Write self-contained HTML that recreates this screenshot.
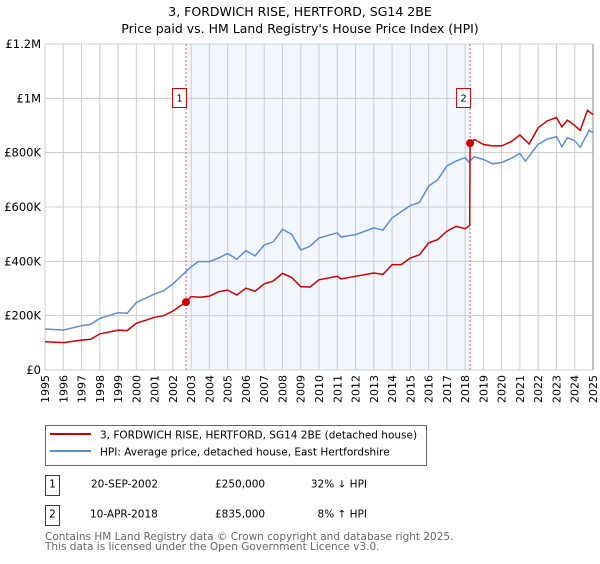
<!DOCTYPE html>
<html><head><meta charset="utf-8">
<style>
body{margin:0;background:#fff;font-family:"DejaVu Sans","Liberation Sans",sans-serif;}
svg text{font-family:"DejaVu Sans","Liberation Sans",sans-serif;}
</style></head>
<body>
<svg id="chart" width="600" height="560" xmlns="http://www.w3.org/2000/svg">
<text x="300" y="16" text-anchor="middle" font-size="12.5" fill="#000">3, FORDWICH RISE, HERTFORD, SG14 2BE</text>
<text x="300" y="33" text-anchor="middle" font-size="12.5" fill="#000">Price paid vs. HM Land Registry's House Price Index (HPI)</text>
<g id="plot"></g>
<g>
<rect x="45.5" y="425.5" width="381" height="40" fill="#fff" stroke="#666"/>
<line x1="50" y1="434" x2="91" y2="434" stroke="#cc0000" stroke-width="2"/>
<text x="100" y="438.5" font-size="10.5">3, FORDWICH RISE, HERTFORD, SG14 2BE (detached house)</text>
<line x1="50" y1="451" x2="91" y2="451" stroke="#5b8ed6" stroke-width="2"/>
<text x="100" y="455.5" font-size="10.5">HPI: Average price, detached house, East Hertfordshire</text>
</g>
<g font-size="10.5">
<rect x="45.5" y="475.5" width="14" height="20" fill="#fff" stroke="#cc0000"/>
<text x="52.5" y="487.5" text-anchor="middle">1</text>
<text x="91" y="487.5">20-SEP-2002</text>
<text x="215" y="487.5">£250,000</text>
<text x="367" y="487.5" text-anchor="end">32% ↓ HPI</text>
<rect x="45.5" y="505.5" width="14" height="20" fill="#fff" stroke="#cc0000"/>
<text x="52.5" y="517.5" text-anchor="middle">2</text>
<text x="90" y="517.5">10-APR-2018</text>
<text x="215" y="517.5">£835,000</text>
<text x="367" y="517.5" text-anchor="end">8% ↑ HPI</text>
</g>
<text x="45" y="540" font-size="10.5" fill="#666">Contains HM Land Registry data © Crown copyright and database right 2025.</text>
<text x="45" y="550" font-size="10.5" fill="#666">This data is licensed under the Open Government Licence v3.0.</text>
</svg>
<script>
const years=[1995,1996,1997,1998,1999,2000,2001,2002,2003,2004,2005,2006,2007,2008,2009,2010,2011,2012,2013,2014,2015,2016,2017,2018,2019,2020,2021,2022,2023,2024,2025];
const yTicks=[0,200000,400000,600000,800000,1000000,1200000];
const yTickLabels=["£0","£200K","£400K","£600K","£800K","£1M","£1.2M"];
const hpiDates=[1995,1996,1997,1997.5,1998,1999,1999.5,2000,2001,2001.5,2002,2002.7,2003,2003.4,2004,2004.5,2005,2005.5,2006,2006.5,2007,2007.5,2008,2008.5,2009,2009.5,2010,2011,2011.2,2012,2013,2013.5,2014,2015,2015.5,2016,2016.5,2017,2017.5,2018,2018.2,2018.5,2019,2019.5,2020,2020.5,2021,2021.3,2022,2022.5,2023,2023.3,2023.6,2024,2024.3,2024.8,2025];
const hpiValues=[151000,147000,163000,168000,190000,211000,209000,248000,280000,292000,317000,362000,380000,399000,399000,412000,429000,408000,439000,420000,460000,472000,518000,500000,442000,455000,486000,505000,490000,498000,523000,515000,560000,605000,617000,677000,700000,751000,769000,782000,765000,785000,775000,759000,764000,778000,797000,769000,831000,850000,859000,822000,855000,844000,820000,883000,873000];
const ppDates=[1995,1996,1997,1997.5,1998,1999,1999.5,2000,2001,2001.5,2002,2002.72,2003,2003.5,2004,2004.5,2005,2005.5,2006,2006.5,2007,2007.5,2008,2008.5,2009,2009.5,2010,2011,2011.2,2012,2013,2013.5,2014,2014.5,2015,2015.5,2016,2016.5,2017,2017.5,2018,2018.25,2018.27,2018.5,2019,2019.5,2020,2020.5,2021,2021.5,2022,2022.5,2023,2023.3,2023.6,2024,2024.3,2024.7,2025];
const ppValues=[104000,101000,110000,113000,133000,147000,145000,172000,194000,200000,217000,250000,270000,268000,272000,288000,294000,276000,301000,290000,317000,328000,356000,341000,307000,305000,332000,345000,335000,345000,357000,352000,388000,388000,412000,424000,468000,480000,511000,529000,520000,532000,835000,849000,830000,825000,825000,840000,865000,832000,892000,917000,929000,895000,920000,900000,882000,956000,940000];
const saleDates=[2002.72,2018.27];
const salePrices=[250000,835000];
const saleLabels=["1","2"];

const X0=45,X1=593,Y0=370,Y1=44;
const xs=t=>X0+(t-1995)/30*(X1-X0);
const ys=v=>Y0-v/1200000*(Y0-Y1);
const NS="http://www.w3.org/2000/svg";
const plot=document.getElementById('plot');
function mk(tag,attrs){const e=document.createElementNS(NS,tag);for(const k in attrs)e.setAttribute(k,attrs[k]);plot.appendChild(e);return e;}

let shade=mk('rect',{x:xs(saleDates[0]),y:Y1,width:xs(saleDates[1])-xs(saleDates[0]),height:Y0-Y1,fill:'#eef3fc',opacity:0.75});


years.forEach(y=>{
  let g=mk('line',{x1:xs(y),x2:xs(y),y1:Y1,y2:Y0,stroke:'#cccccc','stroke-width':1});
  
  
  let t=mk('text',{x:0,y:0,'font-size':11,'text-anchor':'end',transform:`translate(${xs(y)+4},${Y0+5}) rotate(-90)`});
  t.textContent=y;
  
  
});
yTicks.forEach((v,i)=>{
  let g=mk('line',{x1:X0,x2:X1,y1:ys(v),y2:ys(v),stroke:'#cccccc','stroke-width':1});
  
  
  let t=mk('text',{x:X0-4,y:ys(v)+4,'font-size':11.5,'text-anchor':'end'});
  t.textContent=yTickLabels[i];
  
  
});
let rb=mk('line',{x1:X1,x2:X1,y1:Y1,y2:Y0,stroke:'#888','stroke-width':1});


saleDates.forEach((d,i)=>{
  let l=mk('line',{x1:xs(d),x2:xs(d),y1:Y1,y2:Y0,stroke:'#e06060','stroke-width':1,'stroke-dasharray':'2,2'});
  
  
});
function path(d,v){return d.map((t,i)=>(i?'L':'M')+xs(t).toFixed(1)+','+ys(v[i]).toFixed(1)).join('');}
let hp=mk('path',{d:path(hpiDates,hpiValues),fill:'none',stroke:'#5b8ed6','stroke-width':1.5});


let pp=mk('path',{d:path(ppDates,ppValues),fill:'none',stroke:'#cc0000','stroke-width':1.5});


saleDates.forEach((d,i)=>{
  let c=mk('circle',{cx:xs(d),cy:ys(salePrices[i]),r:4,fill:'#cc0000'});
  
  
  let b=mk('rect',{x:xs(d)-13.5,y:88.5,width:14,height:19,fill:'#fff',stroke:'#cc0000'});
  
  
  let t=mk('text',{x:xs(d)-6.5,y:101.5,'font-size':10,'text-anchor':'middle'});
  t.textContent=saleLabels[i];
  
  
});
</script>
</body></html>
